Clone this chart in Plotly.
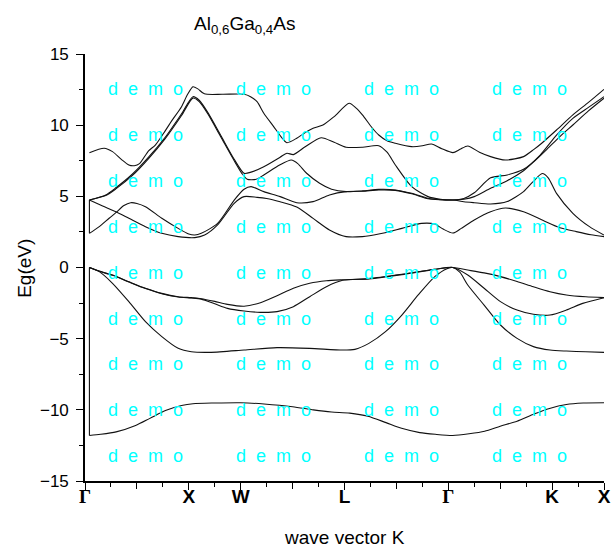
import plotly.graph_objects as go

# ---------------- data ----------------
# high-symmetry points on the k path (axis units) and their labels
sym_pos = [0, 4, 6, 10, 14, 18, 20]
sym_lbl = ["Γ", "X", "W", "L", "Γ", "K", "X"]

# valence bands
k_v1 = [0.17, 0.6, 1.2, 1.95, 2.5, 3.1, 3.72, 4.16, 5.0, 6.0, 6.9, 8.0, 8.8, 9.5, 10.2, 10.9, 11.6,
        12.2, 12.9, 13.5, 14.17, 14.8, 15.4, 16.0, 16.65, 17.3, 17.9, 18.55, 19.2, 20.0]
e_v1 = [-11.8, -11.72, -11.55, -11.1, -10.6, -10.05, -9.7, -9.57, -9.52, -9.5, -9.59, -9.78, -10.0,
        -10.15, -10.23, -10.45, -10.9, -11.3, -11.6, -11.72, -11.8, -11.68, -11.5, -11.15, -10.8,
        -10.3, -9.9, -9.62, -9.52, -9.5]

k_v2 = [0.17, 0.55, 1.06, 1.69, 2.33, 2.96, 3.59, 4.1, 4.86, 6.13, 7.4, 8.66, 9.93, 10.4, 10.94,
        11.58, 12.21, 12.84, 13.48, 13.95, 14.17, 14.45, 14.75, 15.38, 16.01, 16.65, 17.28, 17.92,
        18.55, 19.3, 20.0]
e_v2 = [0.0, -0.29, -1.11, -2.4, -3.81, -4.86, -5.68, -5.92, -5.96, -5.8, -5.63, -5.68, -5.8, -5.75,
        -5.33, -4.51, -3.34, -1.93, -0.64, -0.08, 0.0, -0.35, -1.23, -2.64, -4.04, -4.98, -5.56,
        -5.8, -5.87, -5.92, -5.96]

k_v3 = [0.17, 0.55, 1.06, 1.69, 2.33, 2.96, 3.59, 4.1, 4.48, 5.0, 5.49, 6.13, 6.76, 7.4, 8.03,
        8.66, 9.3, 9.93, 10.94, 12.21, 13.48, 14.17, 14.75, 15.38, 16.01, 16.65, 17.28, 17.92,
        18.55, 19.3, 20.0]
e_v3 = [0.0, -0.25, -0.53, -1.0, -1.46, -1.82, -2.05, -2.12, -2.19, -2.38, -2.59, -2.72, -2.47,
        -1.98, -1.46, -1.11, -0.93, -0.86, -0.78, -0.48, -0.12, 0.0, -0.18, -0.38, -0.64, -0.98,
        -1.35, -1.7, -1.93, -2.06, -2.12]

k_v4 = [0.17, 0.55, 1.06, 1.69, 2.33, 2.96, 3.59, 4.1, 4.48, 5.0, 5.49, 6.13, 6.76, 7.4, 8.03,
        8.66, 9.3, 9.93, 10.94, 12.21, 13.48, 14.17, 14.75, 15.38, 16.01, 16.65, 17.28, 17.92,
        18.55, 19.18, 20.0]
e_v4 = [0.0, -0.27, -0.55, -1.02, -1.48, -1.84, -2.07, -2.14, -2.22, -2.55, -2.87, -3.06, -3.15,
        -3.1, -2.75, -2.05, -1.35, -0.9, -0.8, -0.5, -0.13, 0.0, -0.53, -1.46, -2.4, -2.99, -3.29,
        -3.34, -2.99, -2.52, -2.12]

# conduction bands
k_c1 = [0.17, 0.55, 0.93, 1.19, 1.5, 1.76, 2.0, 2.33, 2.96, 3.59, 4.0, 4.23, 4.48, 5.11, 5.75,
        6.13, 6.4, 6.89, 7.52, 8.16, 8.79, 9.42, 10.06, 10.7, 11.32, 11.96, 12.59, 13.22, 13.7,
        14.17, 14.6, 15.0, 15.63, 16.27, 16.9, 17.25, 17.62, 17.85, 18.17, 18.8, 19.44, 20.0]
e_c1 = [2.4, 2.87, 3.46, 3.85, 4.35, 4.55, 4.5, 4.27, 3.46, 2.75, 2.35, 2.28, 2.4, 3.1, 4.74,
        5.5, 5.68, 5.33, 4.98, 4.55, 4.63, 5.1, 5.33, 5.36, 5.45, 5.42, 5.18, 4.83, 4.76, 4.74,
        4.62, 4.55, 4.46, 4.63, 5.33, 6.0, 6.6, 6.3, 5.21, 3.81, 2.87, 2.28]

k_c2 = [0.17, 0.68, 1.19, 1.69, 2.33, 2.96, 3.59, 4.23, 4.61, 5.11, 5.75, 6.13, 6.63, 7.0, 7.52,
        8.16, 8.79, 9.42, 10.06, 10.69, 11.32, 12.21, 12.97, 13.48, 13.8, 14.18, 14.5, 15.0,
        15.63, 16.2, 16.9, 17.66, 18.3, 18.93, 19.5, 20.0]
e_c2 = [4.74, 4.32, 3.92, 3.46, 2.87, 2.4, 2.17, 2.1, 2.28, 2.99, 4.51, 4.98, 4.93, 4.85, 4.62,
        4.25, 3.45, 2.64, 2.17, 2.17, 2.35, 2.75, 3.1, 3.05, 2.7, 2.42, 2.75, 3.34, 3.92, 4.18,
        3.92, 3.3, 2.8, 2.52, 2.3, 2.17]

k_c3 = [0.17, 0.8, 1.19, 1.82, 2.45, 3.09, 3.72, 4.16, 4.4, 4.73, 5.24, 5.75, 6.13, 6.4, 6.89,
        7.52, 7.78, 8.03, 8.5, 9.1, 9.6, 10.06, 10.7, 11.32, 11.64, 11.96, 12.59, 13.22, 13.7,
        14.17, 14.6, 15.0, 15.63, 16.27, 16.9, 17.54, 18.17, 18.8, 19.4, 20.0]
e_c3 = [4.74, 5.1, 5.6, 6.55, 7.75, 9.15, 10.8, 12.0, 11.75, 10.9, 9.25, 7.6, 6.62, 6.7, 7.08,
        7.75, 8.03, 7.93, 8.5, 9.12, 8.8, 8.45, 8.45, 8.56, 8.1, 7.2, 5.68, 4.98, 4.8, 4.74, 4.85,
        5.25, 6.3, 6.5, 6.9, 7.9, 9.3, 10.48, 11.25, 12.0]

k_c4 = [0.17, 0.8, 1.19, 1.82, 2.45, 3.09, 3.72, 4.16, 4.4, 4.73, 5.24, 5.75, 6.05, 6.25, 6.6,
        6.89, 7.5, 7.95, 8.2, 8.54, 9.04, 9.5, 10.06, 10.7, 11.32, 11.96, 12.59, 13.22, 13.7,
        14.17, 14.6, 15.0, 15.63, 16.27, 16.9, 17.28, 17.8, 18.3, 18.8, 19.4, 20.0]
e_c4 = [4.74, 5.05, 5.52, 6.45, 7.65, 9.05, 10.68, 11.9, 11.65, 10.8, 9.15, 7.5, 6.6, 6.2, 6.2,
        6.5, 7.2, 7.55, 7.3, 6.62, 5.92, 5.5, 5.33, 5.38, 5.49, 5.45, 5.21, 4.86, 4.76, 4.74, 4.8,
        4.98, 5.57, 6.1, 6.8, 7.4, 8.3, 9.2, 10.01, 11.0, 11.89]

k_c5 = [0.17, 0.74, 1.06, 1.4, 1.69, 1.9, 2.1, 2.45, 2.71, 3.09, 3.34, 3.72, 3.95, 4.16, 4.35,
        4.6, 5.3, 6.13, 6.38, 6.63, 6.89, 7.27, 7.55, 7.78, 8.16, 8.5, 8.79, 9.17, 9.6, 10.18,
        10.45, 10.69, 11.07, 11.32, 11.64, 11.96, 12.59, 13.0, 13.35, 13.75, 14.18, 14.45, 14.75,
        15.2, 15.63, 16.2, 16.9, 17.3, 17.6, 18.17, 18.8, 19.4, 20.0]
e_c5 = [8.07, 8.38, 8.14, 7.6, 7.2, 7.15, 7.3, 8.2, 8.6, 9.6, 10.3, 11.3, 12.15, 12.7, 12.55,
        12.2, 12.17, 12.17, 12.0, 11.65, 10.84, 9.9, 9.2, 8.77, 9.08, 9.5, 9.78, 10.01, 10.6,
        11.54, 11.2, 10.72, 9.8, 9.31, 8.9, 8.73, 8.49, 8.55, 8.68, 8.35, 8.07, 8.3, 8.54, 8.1,
        7.79, 7.55, 7.79, 8.3, 8.73, 9.66, 10.72, 11.6, 12.52]

bands = [(k_v1, e_v1), (k_v2, e_v2), (k_v3, e_v3), (k_v4, e_v4),
         (k_c1, e_c1), (k_c2, e_c2), (k_c3, e_c3), (k_c4, e_c4), (k_c5, e_c5)]

title_text = "Al<sub>0,6</sub>Ga<sub>0,4</sub>As"
x_title = "wave vector K"
y_title = "Eg(eV)"
watermark = "d\u00a0\u00a0e\u00a0\u00a0m\u00a0\u00a0o"

# ---------------- figure ----------------
FONT = "Liberation Sans, Arial, sans-serif"
W, H = 616, 550
L, R, T, B = 85, 5, 54, 69

fig = go.Figure()
for k, e in bands:
    fig.add_trace(go.Scatter(x=k, y=e, mode="lines",
                             line=dict(color="#111111", width=1.1, shape="spline", smoothing=0.7),
                             hoverinfo="skip", showlegend=False))

# vertical connectors at Γ (as drawn in the original)
for lo, hi in [(e_v1, e_v2), (e_c1, e_c2)]:
    fig.add_trace(go.Scatter(x=[k_v1[0], k_v1[0]], y=[lo[0], hi[0]], mode="lines",
                             line=dict(color="#111111", width=1.1),
                             hoverinfo="skip", showlegend=False))

# invisible trace so the overlay axis (unlabelled major ticks) is drawn
major = list(range(0, 21, 2))
unlabelled = [v for v in major if v not in sym_pos]
fig.add_trace(go.Scatter(x=[0, 20], y=[0, 0], xaxis="x2", mode="lines",
                         line=dict(width=0), opacity=0, hoverinfo="skip", showlegend=False))

def fmt(s):
    if s == "Γ":
        return '<b><span style="font-family:Liberation Serif">Γ</span></b>'
    return "<b>" + s + "</b>"
ticktext = [fmt(s) for s in sym_lbl]

tick_common = dict(ticks="outside", ticklen=7, tickwidth=1.3, tickcolor="black")
minor_common = dict(ticks="outside", ticklen=4, tickwidth=1.2, tickcolor="black")

fig.update_layout(
    width=W, height=H,
    margin=dict(l=L, r=R, t=T, b=B, pad=0),
    paper_bgcolor="white", plot_bgcolor="white",
    font=dict(family=FONT, color="black", size=17),
    showlegend=False,
    xaxis=dict(range=[0, 20], showgrid=False, zeroline=False,
               showline=True, linecolor="black", linewidth=1.6,
               tickmode="array", tickvals=sym_pos, ticktext=ticktext,
               tickfont=dict(size=19, family=FONT), ticklabelstandoff=-10,
               ticklabeloverflow="allow",
               minor=dict(tickmode="array", tickvals=list(range(1, 20, 2)), **minor_common),
               **tick_common),
    xaxis2=dict(range=[0, 20], overlaying="x", anchor="y", side="bottom",
                showgrid=False, zeroline=False, showline=False,
                tickmode="array", tickvals=unlabelled, showticklabels=False,
                **tick_common),
    yaxis=dict(range=[-15, 15], showgrid=False, zeroline=False,
               showline=True, linecolor="black", linewidth=1.6,
               tickmode="linear", tick0=-15, dtick=5,
               tickfont=dict(size=17, family=FONT), ticklabelstandoff=4,
               minor=dict(dtick=2.5, **minor_common),
               **tick_common),
)

pw, ph = W - L - R, H - T - B
def px(xp):
    return (xp - L) / pw
def py(yp):
    return (H - B - yp) / ph

ann = []
ann.append(dict(text=title_text, x=px(247), y=py(25), xref="paper", yref="paper",
                xanchor="center", yanchor="middle", showarrow=False,
                font=dict(size=19, family=FONT, color="black")))
ann.append(dict(text=x_title, x=px(348), y=py(537), xref="paper", yref="paper",
                xanchor="center", yanchor="middle", showarrow=False,
                font=dict(size=19, family=FONT, color="black")))
ann.append(dict(text=y_title, x=px(23), y=py(268), xref="paper", yref="paper",
                xanchor="center", yanchor="middle", textangle=-90, showarrow=False,
                font=dict(size=19, family=FONT, color="black")))
for i in range(9):
    for j in range(4):
        ann.append(dict(text=watermark, x=px(146 + 130 * j), y=py(89 + 45.9 * i),
                        xref="paper", yref="paper", xanchor="center", yanchor="middle",
                        showarrow=False, font=dict(size=18, family=FONT, color="#00FFFF")))
fig.update_layout(annotations=ann)

fig.write_html("out.html")
